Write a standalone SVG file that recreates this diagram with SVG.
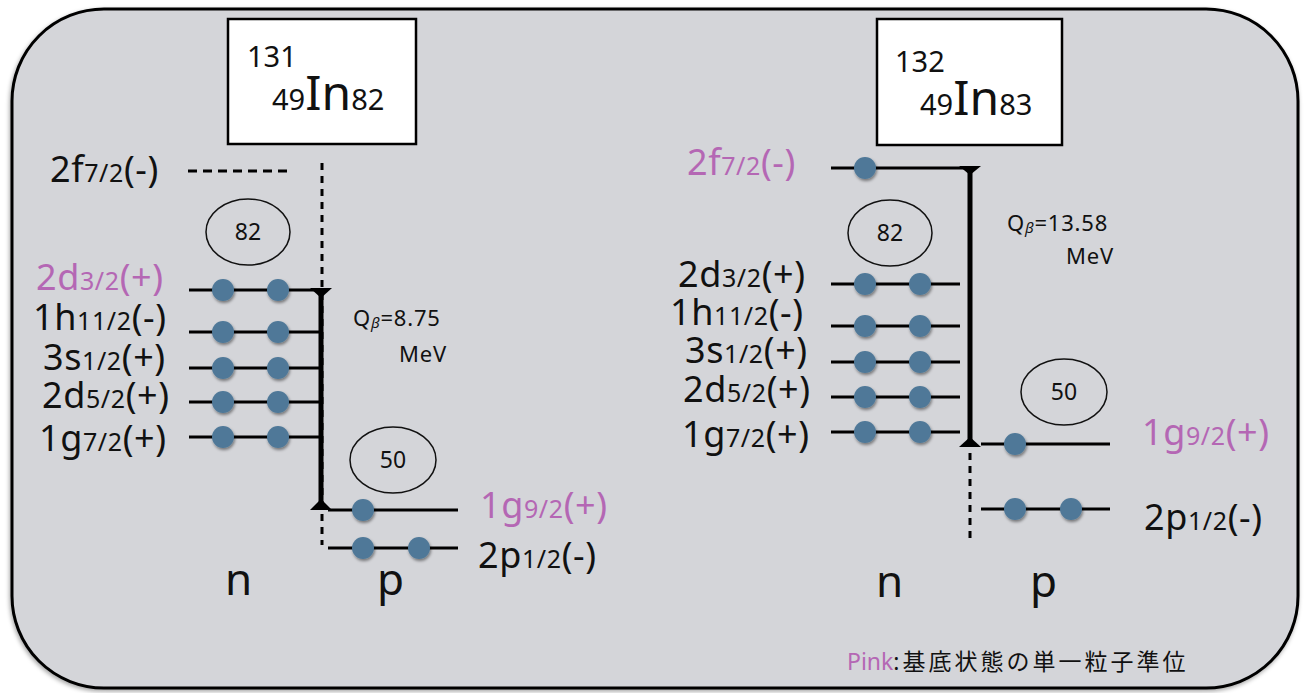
<svg xmlns="http://www.w3.org/2000/svg" width="1307" height="693" viewBox="0 0 1307 693">
<defs>
<filter id="sh" x="-50%" y="-50%" width="200%" height="200%"><feDropShadow dx="1" dy="2" stdDeviation="1.5" flood-color="#000" flood-opacity="0.45"/></filter>
<filter id="bgsh" x="-5%" y="-5%" width="110%" height="110%"><feDropShadow dx="-1" dy="2" stdDeviation="2" flood-color="#000" flood-opacity="0.35"/></filter>
</defs>
<style>
text{font-family:"Noto Sans","Liberation Sans","Noto Sans CJK JP",sans-serif;fill:#111}
.lab{font-size:36px;letter-spacing:0.6px}
.sub{font-size:25px}
.pk{fill:#b467b4}
.lv{stroke:#000;stroke-width:3;fill:none}
.e{fill:#4f7898;filter:url(#sh)}
.ell{fill:none;stroke:#111;stroke-width:1.5}
.en{font-size:23px;text-anchor:middle}
.q{font-size:22px;letter-spacing:0.8px}
.box{fill:#fff;stroke:#000;stroke-width:2.5}
.dot{stroke:#000;stroke-width:3;stroke-dasharray:7 6;fill:none}
.solid{stroke:#000;stroke-width:5;fill:none}
.np{font-size:44px}
</style>
<rect x="12" y="9" width="1286" height="679" rx="92" ry="92" fill="#d4d5d9" stroke="#000" stroke-width="3" filter="url(#bgsh)"/>

<g id="box131">
<rect class="box" x="228" y="19" width="188" height="125"/>
<text x="247" y="67" font-size="29">131</text>
<text x="272" y="110"><tspan font-size="29">49</tspan><tspan font-size="48">In</tspan><tspan font-size="29">82</tspan></text>
</g>
<g id="box132">
<rect class="box" x="877" y="19" width="185" height="126"/>
<text x="895" y="72" font-size="29">132</text>
<text x="920" y="115"><tspan font-size="29">49</tspan><tspan font-size="48">In</tspan><tspan font-size="29">83</tspan></text>
</g>

<g id="connectors">
<line class="dot" x1="188" y1="171" x2="290" y2="171" style="stroke-dasharray:9 6"/>
<line class="dot" x1="322" y1="163" x2="322" y2="545"/>
<line class="solid" x1="321" y1="290" x2="321" y2="508"/>
<polygon points="310,288 332,288 321,298" fill="#000"/>
<polygon points="310,510 332,510 321,499" fill="#000"/>
<line class="solid" x1="970" y1="168" x2="970" y2="446"/>
<polygon points="959,166 981,166 970,175" fill="#000"/>
<polygon points="959,447 981,447 970,437" fill="#000"/>
<line class="dot" x1="970" y1="453" x2="970" y2="542"/>
</g>

<g id="left-neutron-levels">
<text class="lab" x="50" y="182">2f<tspan class="sub">7/2</tspan>(-)</text>
<text class="lab pk" x="36" y="290">2d<tspan class="sub">3/2</tspan>(+)</text>
<text class="lab" x="33" y="330">1h<tspan class="sub">11/2</tspan>(-)</text>
<text class="lab" x="43" y="370">3s<tspan class="sub">1/2</tspan>(+)</text>
<text class="lab" x="42" y="408">2d<tspan class="sub">5/2</tspan>(+)</text>
<text class="lab" x="39" y="451">1g<tspan class="sub">7/2</tspan>(+)</text>
<line class="lv" x1="189" y1="290" x2="320" y2="290"/>
<line class="lv" x1="189" y1="332" x2="320" y2="332"/>
<line class="lv" x1="189" y1="368" x2="320" y2="368"/>
<line class="lv" x1="189" y1="402" x2="320" y2="402"/>
<line class="lv" x1="189" y1="437" x2="320" y2="437"/>
<circle class="e" cx="223" cy="290" r="11"/><circle class="e" cx="278" cy="290" r="11"/>
<circle class="e" cx="223" cy="332" r="11"/><circle class="e" cx="278" cy="332" r="11"/>
<circle class="e" cx="223" cy="368" r="11"/><circle class="e" cx="278" cy="368" r="11"/>
<circle class="e" cx="223" cy="402" r="11"/><circle class="e" cx="278" cy="402" r="11"/>
<circle class="e" cx="223" cy="437" r="11"/><circle class="e" cx="278" cy="437" r="11"/>
</g>
<g id="left-shell82">
<ellipse class="ell" cx="248" cy="232" rx="42" ry="33"/>
<text class="en" x="248" y="240">82</text>
</g>
<g id="left-q">
<text class="q" x="353" y="326">Q<tspan font-size="15" font-style="italic" dy="2">β</tspan><tspan dy="-2">=8.75</tspan></text>
<text class="q" x="399" y="362">MeV</text>
</g>
<g id="left-shell50">
<ellipse class="ell" cx="393" cy="460" rx="43" ry="33"/>
<text class="en" x="393" y="468">50</text>
</g>
<g id="left-proton-levels">
<line class="lv" x1="328" y1="510" x2="458" y2="510"/>
<line class="lv" x1="328" y1="548" x2="458" y2="548"/>
<circle class="e" cx="363" cy="510" r="11"/>
<circle class="e" cx="363" cy="548" r="11"/><circle class="e" cx="419" cy="548" r="11"/>
<text class="lab pk" x="480" y="518">1g<tspan class="sub">9/2</tspan>(+)</text>
<text class="lab" x="478" y="568">2p<tspan class="sub">1/2</tspan>(-)</text>
</g>
<g id="left-np">
<text class="np" x="225" y="595">n</text>
<text class="np" x="377" y="595">p</text>
</g>

<g id="right-neutron-levels">
<text class="lab pk" x="687" y="175">2f<tspan class="sub">7/2</tspan>(-)</text>
<text class="lab" x="678" y="287">2d<tspan class="sub">3/2</tspan>(+)</text>
<text class="lab" x="670" y="325">1h<tspan class="sub">11/2</tspan>(-)</text>
<text class="lab" x="685" y="363">3s<tspan class="sub">1/2</tspan>(+)</text>
<text class="lab" x="683" y="402">2d<tspan class="sub">5/2</tspan>(+)</text>
<text class="lab" x="682" y="447">1g<tspan class="sub">7/2</tspan>(+)</text>
<line class="lv" x1="831" y1="168" x2="968" y2="168"/>
<line class="lv" x1="831" y1="284" x2="960" y2="284"/>
<line class="lv" x1="831" y1="326" x2="960" y2="326"/>
<line class="lv" x1="831" y1="362" x2="960" y2="362"/>
<line class="lv" x1="831" y1="397" x2="960" y2="397"/>
<line class="lv" x1="831" y1="432" x2="960" y2="432"/>
<circle class="e" cx="865" cy="168" r="11"/>
<circle class="e" cx="865" cy="284" r="11"/><circle class="e" cx="920" cy="284" r="11"/>
<circle class="e" cx="865" cy="326" r="11"/><circle class="e" cx="920" cy="326" r="11"/>
<circle class="e" cx="865" cy="362" r="11"/><circle class="e" cx="920" cy="362" r="11"/>
<circle class="e" cx="865" cy="397" r="11"/><circle class="e" cx="920" cy="397" r="11"/>
<circle class="e" cx="865" cy="432" r="11"/><circle class="e" cx="920" cy="432" r="11"/>
</g>
<g id="right-shell82">
<ellipse class="ell" cx="890" cy="233" rx="42" ry="33"/>
<text class="en" x="890" y="241">82</text>
</g>
<g id="right-q">
<text class="q" x="1007" y="231">Q<tspan font-size="15" font-style="italic" dy="2">β</tspan><tspan dy="-2">=13.58</tspan></text>
<text class="q" x="1066" y="264">MeV</text>
</g>
<g id="right-shell50">
<ellipse class="ell" cx="1064" cy="392" rx="43" ry="33"/>
<text class="en" x="1064" y="400">50</text>
</g>
<g id="right-proton-levels">
<line class="lv" x1="981" y1="444" x2="1110" y2="444"/>
<line class="lv" x1="981" y1="509" x2="1110" y2="509"/>
<circle class="e" cx="1015" cy="444" r="11"/>
<circle class="e" cx="1015" cy="509" r="11"/><circle class="e" cx="1071" cy="509" r="11"/>
<text class="lab pk" x="1142" y="445">1g<tspan class="sub">9/2</tspan>(+)</text>
<text class="lab" x="1144" y="530">2p<tspan class="sub">1/2</tspan>(-)</text>
</g>
<g id="right-np">
<text class="np" x="876" y="597">n</text>
<text class="np" x="1030" y="597">p</text>
</g>

<g id="legend">
<text x="847" y="670" font-size="23" letter-spacing="3"><tspan class="pk" letter-spacing="0">Pink</tspan>:基底状態の単一粒子準位</text>
</g>
</svg>
